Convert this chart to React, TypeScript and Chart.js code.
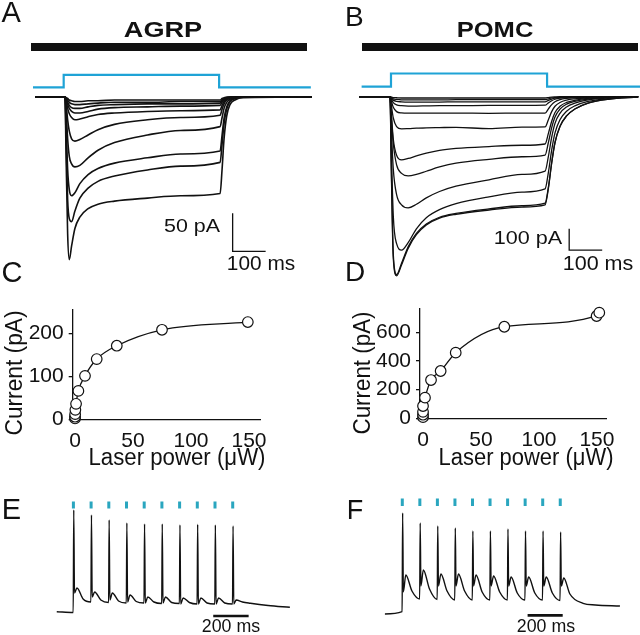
import React, { useEffect, useRef } from 'react';
import { Chart, registerables } from 'chart.js';

Chart.register(...registerables);

const FONT = '"Liberation Sans", Arial, Helvetica, sans-serif';
const INK = '#111111';
const STIM_BLUE = '#1fa3d6';
const PULSE_TEAL = '#2aa6bf';

// ---------- A: AGRP light-evoked currents (pA) ----------
const agrpTimeMs = [-91, 0, 3, 8, 13, 20, 30, 45, 70, 100, 150, 250, 350, 470, 476, 482, 490, 500, 515, 540, 748];
const agrpSweep1 = [0, 0, -70, -180, -214, -196, -173, -158, -147, -141, -137, -133, -130, -127, -95, -55, -25, -10, -4, -1, 0];
const agrpSweep2 = [0, 0, -50, -135, -160, -164, -150, -133, -120, -111, -104, -96, -91, -86, -62, -35, -16, -6, -2, 0, 0];
const agrpSweep3 = [0, 0, -30, -95, -122, -130, -126, -114, -102, -94, -87, -80, -75, -71, -50, -28, -13, -5, -2, 0, 0];
const agrpSweep4 = [0, 0, -15, -55, -78, -88, -92, -90, -80, -70, -60, -50, -44, -39, -27, -15, -7, -3, -1, 0, 0];
const agrpSweep5 = [0, 0, -8, -30, -45, -55, -58, -56, -50, -43, -36, -30, -27, -24, -16, -9, -4, -2, -1, 0, 0];
const agrpSweep6 = [0, 0, -5, -15, -22, -27, -30, -29, -26, -23, -21, -19, -18, -17, -11, -6, -3, -1, 0, 0, 0];
const agrpSweep7 = [0, 0, -3, -10, -15, -19, -21, -21, -19, -16, -14, -13, -12, -11, -7, -4, -2, -1, 0, 0, 0];
const agrpSweep8 = [0, 0, -2, -7, -11, -14, -15, -15, -13, -11, -10, -9, -9, -8, -5, -3, -1, 0, 0, 0, 0];
const agrpSweep9 = [0, 0, -1, -4, -7, -9, -10, -10, -9, -8, -7, -7, -6, -6, -4, -2, -1, 0, 0, 0, 0];
const agrpSweep10 = [0, 0, -1, -2, -4, -5, -6, -6, -5, -5, -4, -4, -4, -4, -2, -1, 0, 0, 0, 0, 0];
const agrpSweeps = [agrpSweep1, agrpSweep2, agrpSweep3, agrpSweep4, agrpSweep5, agrpSweep6, agrpSweep7, agrpSweep8, agrpSweep9, agrpSweep10];
const agrpLightTimeMs = [-97, -4, -4, 467, 467, 745];
const agrpLightLevel = [0, 0, 1, 1, 0, 0];
const agrpScaleBar = { t: 508, i: -203, dt: 100, di: 50 };

// ---------- B: POMC light-evoked currents (pA) ----------
const pomcTimeMs = [-94, 0, 4, 10, 20, 35, 55, 80, 110, 150, 200, 300, 400, 470, 480, 490, 500, 515, 535, 560, 600, 660, 752];
const pomcSweep1 = [0, 0, -350, -760, -841, -790, -712, -648, -602, -570, -552, -532, -518, -508, -430, -310, -215, -140, -90, -58, -30, -12, -2];
const pomcSweep2 = [0, 0, -330, -740, -835, -782, -705, -642, -598, -566, -548, -527, -512, -500, -425, -310, -215, -140, -90, -58, -30, -12, -2];
const pomcSweep3 = [0, 0, -250, -560, -690, -720, -685, -620, -568, -530, -502, -470, -448, -433, -355, -250, -170, -108, -68, -43, -22, -9, -1];
const pomcSweep4 = [0, 0, -150, -340, -460, -508, -522, -505, -475, -445, -420, -390, -365, -349, -280, -190, -125, -78, -48, -30, -15, -6, -1];
const pomcSweep5 = [0, 0, -90, -220, -320, -360, -372, -365, -350, -330, -312, -294, -282, -274, -215, -145, -95, -58, -35, -22, -11, -4, 0];
const pomcSweep6 = [0, 0, -80, -200, -275, -297, -290, -278, -265, -252, -243, -234, -228, -222, -172, -115, -74, -45, -27, -17, -8, -3, 0];
const pomcSweep7 = [0, 0, -40, -100, -140, -151, -150, -148, -146, -145, -144, -150, -143, -142, -108, -70, -45, -27, -16, -10, -5, -2, 0];
const pomcSweep8 = [0, 0, -20, -50, -70, -76, -77, -77, -77, -77, -77, -78, -77, -77, -57, -37, -24, -14, -8, -5, -2, -1, 0];
const pomcSweep9 = [0, 0, -10, -28, -38, -42, -44, -44, -43, -42, -42, -41, -41, -40, -29, -19, -12, -7, -4, -2, -1, 0, 0];
const pomcSweep10 = [0, 0, -6, -16, -22, -24, -25, -25, -25, -25, -24, -24, -24, -24, -17, -11, -7, -4, -2, -1, 0, 0, 0];
const pomcSweep11 = [0, 0, -4, -10, -13, -15, -15, -15, -15, -15, -14, -14, -14, -14, -10, -6, -4, -2, -1, 0, 0, 0, 0];
const pomcSweep12 = [0, 0, -2, -4, -5, -6, -6, -6, -6, -6, -6, -6, -6, -6, -4, -2, -1, 0, 0, 0, 0, 0, 0];
const pomcSweeps = [pomcSweep1, pomcSweep2, pomcSweep3, pomcSweep4, pomcSweep5, pomcSweep6, pomcSweep7, pomcSweep8, pomcSweep9, pomcSweep10, pomcSweep11, pomcSweep12];
const pomcLightTimeMs = [-86, 3, 3, 476, 476, 758];
const pomcLightLevel = [0, 0, 1, 1, 0, 0];
const pomcScaleBar = { t: 543, i: -720, dt: 100, di: 100 };

// ---------- C / D: current vs laser power ----------
const agrpPowerUw = [0, 0, 0.1, 0.3, 0.9, 2.9, 8.6, 18.7, 36, 75, 149];
const agrpCurrentPa = [2, 6, 12, 22, 36, 66, 101, 140, 171, 208, 226];
const pomcPowerUw = [0, 0, 0, 0, 1.7, 6.9, 15.2, 28.2, 70.1, 149.7, 152];
const pomcCurrentPa = [8, 25, 45, 86, 144, 267, 330, 458, 639, 714, 737];
const powerTicks = [0, 50, 100, 150];
const agrpCurrentTicks = [0, 100, 200];
const pomcCurrentTicks = [0, 200, 400, 600];

// ---------- E / F: spike trains to 10 Hz light ----------
const ePulseMs = [0, 100, 200, 300, 400, 500, 600, 700, 800, 900];
const eSpikeMs = [0, 100, 200, 300, 400, 500, 600, 700, 800, 900];
const ePreMv = [-65.5, -55, -55.5, -56, -56, -56.5, -56.5, -57, -57, -57];
const ePeakMv = [37, 32, 27, 24, 23, 23, 22, 22.7, 22, 21];
const eDipMv = [-46, -50, -53, -55, -56, -56, -57, -57, -57, -57];
const eHumpMv = [-41, -45, -46, -48, -50, -50, -51, -51, -51, -53];
const eMidMv = [-52, -53, -54, -54.5, -55, -55.5, -55.5, -56, -56, -55];
const eStartMs = -94;
const eStartMv = -64.7;
const eTailMs = [1000, 1100, 1223];
const eTailMv = [-56.3, -58.5, -60.3];
const eScaleBar = { t: 790, v: -69, dt: 200 };

const fPulseMs = [0, 100, 200, 300, 400, 500, 600, 700, 800, 900];
const fSpikeMs = [0, 100, 200, 300, 400, 500, 600, 700, 800, 900];
const fPreMv = [-62.7, -50, -50.5, -51, -51, -51, -51, -51, -51, -51.5];
const fPeakMv = [36, 26, 23, 21, 18, 18, 20, 18, 18, 17];
const fDipMv = [-43, -37, -37, -37, -37, -37, -37, -37, -37, -37];
const fHumpMv = [-26, -21, -25, -25, -26, -27, -28, -28, -28, -29];
const fMidMv = [-42, -40, -42, -42, -43, -43, -44, -44, -44, -45];
const fStartMs = -99;
const fStartMv = -65;
const fTailMs = [1030, 1100, 1240];
const fTailMv = [-54.3, -56, -57];
const fScaleBar = { t: 714, v: -66.3, dt: 200 };

// ---------- helpers ----------
const zipXY = (xs: number[], ys: number[]) => xs.map((x, i) => ({ x, y: ys[i] }));

function spikeTrain(spikes: number[], pre: number[], peak: number[], dip: number[], hump: number[], mid: number[],
  startT: number, startV: number, tailT: number[], tailV: number[]) {
  const pts: { x: number; y: number }[] = [{ x: startT, y: startV }];
  spikes.forEach((t, i) => {
    pts.push({ x: t - 1, y: pre[i] }, { x: t + 2, y: peak[i] }, { x: t + 6, y: dip[i] },
      { x: t + 20, y: hump[i] }, { x: t + 55, y: mid[i] });
  });
  tailT.forEach((t, i) => pts.push({ x: t, y: tailV[i] }));
  return pts;
}

function pulseMarks(times: number[]) {
  const pts: { x: number; y: number | null }[] = [];
  times.forEach((t) => { pts.push({ x: t, y: 0 }, { x: t, y: 1 }, { x: t, y: null }); });
  return pts;
}

const traceDs = (data: any[], width: number, axis = 'y') => ({
  data, borderColor: INK, borderWidth: width, pointRadius: 0, cubicInterpolationMode: 'monotone',
  clip: false, yAxisID: axis, fill: false,
});

const plainDs = (data: any[], color: string, width: number, axis: string) => ({
  data, borderColor: color, borderWidth: width, pointRadius: 0, tension: 0, clip: false,
  yAxisID: axis, fill: false, spanGaps: false, borderCapStyle: 'butt',
});

const hidden = (min: number, max: number, type = 'linear') => ({ type, display: false, min, max });

const baseOptions = (scales: any) => ({
  animation: false, responsive: false, maintainAspectRatio: false, devicePixelRatio: 1, events: [],
  layout: { padding: 0 },
  plugins: { legend: { display: false }, tooltip: { enabled: false }, title: { display: false } },
  scales,
});

// ---------- chart configs ----------
function configA() {
  const sb = agrpScaleBar;
  return {
    type: 'line',
    data: {
      datasets: [
        ...agrpSweeps.map((s) => traceDs(zipXY(agrpTimeMs, s), 1.6)),
        plainDs(zipXY(agrpLightTimeMs, agrpLightLevel), STIM_BLUE, 2.2, 's'),
        plainDs([{ x: sb.t, y: sb.i + sb.di }, { x: sb.t, y: sb.i }, { x: sb.t + sb.dt, y: sb.i }], INK, 1.3, 'y'),
      ],
    },
    options: baseOptions({ x: hidden(-196.97, 772.73), y: hidden(-240.79, 127.63), s: hidden(-15.416, 6.984) }),
  };
}

function configB() {
  const sb = pomcScaleBar;
  return {
    type: 'line',
    data: {
      datasets: [
        ...pomcSweeps.map((s) => traceDs(zipXY(pomcTimeMs, s), 1.3)),
        plainDs(zipXY(pomcLightTimeMs, pomcLightLevel), STIM_BLUE, 2.2, 's'),
        plainDs([{ x: sb.t, y: sb.i + sb.di }, { x: sb.t, y: sb.i }, { x: sb.t + sb.dt, y: sb.i }], INK, 1.3, 'y'),
      ],
    },
    options: baseOptions({ x: hidden(-212.12, 757.58), y: hidden(-860.56, 453.99), s: hidden(-14.644, 6.568) }),
  };
}

function curveConfig(xs: number[], ys: number[], xr: number[], yr: number[], xTicks: number[], yTicks: number[],
  yAxisW: number, xAxisH: number, padTop: number, padRight: number) {
  const tickFont = { family: FONT, size: 21 };
  return {
    type: 'line',
    data: {
      datasets: [{
        data: zipXY(xs, ys), borderColor: INK, borderWidth: 1.3, cubicInterpolationMode: 'monotone',
        pointRadius: 5.3, pointBackgroundColor: '#ffffff', pointBorderColor: INK, pointBorderWidth: 1.2,
        clip: false, fill: false,
      }],
    },
    options: {
      ...baseOptions({
        x: {
          type: 'linear', min: xr[0], max: xr[1],
          border: { display: true, color: INK, width: 1.3 },
          grid: { display: false },
          ticks: { color: INK, font: tickFont, padding: 1, maxRotation: 0, autoSkip: false, includeBounds: false },
          afterBuildTicks: (s: any) => { s.ticks = xTicks.map((v) => ({ value: v })); },
          afterFit: (s: any) => { s.height = xAxisH; },
        },
        y: {
          type: 'linear', min: yr[0], max: yr[1],
          border: { display: true, color: INK, width: 1.3 },
          grid: { display: true, drawOnChartArea: false, drawTicks: true, tickLength: 4, color: INK, lineWidth: 1.3 },
          ticks: { color: INK, font: tickFont, padding: 5, autoSkip: false, includeBounds: false },
          afterBuildTicks: (s: any) => { s.ticks = yTicks.map((v) => ({ value: v })); },
          afterFit: (s: any) => { s.width = yAxisW; },
        },
      }),
      layout: { padding: { top: padTop, right: padRight, left: 0, bottom: 0 } },
    },
  };
}

function configC() {
  return curveConfig(agrpPowerUw, agrpCurrentPa, [-2, 159.5], [0, 254], powerTicks, agrpCurrentTicks, 72.7, 30.7, 20, 40);
}
function configD() {
  return curveConfig(pomcPowerUw, pomcCurrentPa, [-2.6, 158.4], [0, 767.6], powerTicks, pomcCurrentTicks, 100, 31.7, 18.3, 13.3);
}

function configE() {
  const sb = eScaleBar;
  return {
    type: 'line',
    data: {
      datasets: [
        traceDs(spikeTrain(eSpikeMs, ePreMv, ePeakMv, eDipMv, eHumpMv, eMidMv, eStartMs, eStartMv, eTailMs, eTailMv), 1.4),
        plainDs(pulseMarks(ePulseMs), PULSE_TEAL, 3, 'L'),
        plainDs([{ x: sb.t, y: sb.v }, { x: sb.t + sb.dt, y: sb.v }], INK, 2.7, 'y'),
      ],
    },
    options: baseOptions({ x: hidden(-414.7, 1393.2), y: hidden(-88, 67), L: hidden(-18.07, 4.07) }),
  };
}

function configF() {
  const sb = fScaleBar;
  return {
    type: 'line',
    data: {
      datasets: [
        traceDs(spikeTrain(fSpikeMs, fPreMv, fPeakMv, fDipMv, fHumpMv, fMidMv, fStartMs, fStartMv, fTailMs, fTailMv), 1.4),
        plainDs(pulseMarks(fPulseMs), PULSE_TEAL, 3, 'L'),
        plainDs([{ x: sb.t, y: sb.v }, { x: sb.t + sb.dt, y: sb.v }], INK, 2.7, 'y'),
      ],
    },
    options: baseOptions({ x: hidden(-468.9, 1354.4), y: hidden(-86, 69), L: hidden(-17.2, 3.467) }),
  };
}

// ---------- components ----------
function ChartBox({ left, top, width, height, make }: { left: number; top: number; width: number; height: number; make: () => any }) {
  const ref = useRef<HTMLCanvasElement | null>(null);
  useEffect(() => {
    if (!ref.current) return;
    const chart = new Chart(ref.current, make());
    return () => chart.destroy();
  }, []);
  return (
    <canvas ref={ref} width={width} height={height}
      style={{ position: 'absolute', left, top, width, height }} />
  );
}

let measureCtx: CanvasRenderingContext2D | null = null;
function measure(text: string, font: string) {
  if (!measureCtx) measureCtx = document.createElement('canvas').getContext('2d');
  if (!measureCtx) return 0;
  measureCtx.font = font;
  return measureCtx.measureText(text).width;
}

function Label({ text, x, y, size, weight = 'normal', width, align = 'center', rotate = false }:
  { text: string; x: number; y: number; size: number; weight?: string; width?: number; align?: string; rotate?: boolean }) {
  let sx = 1;
  if (width) {
    const w = measure(text, `${weight} ${size}px ${FONT}`);
    if (w > 0) sx = width / w;
  }
  const tx = align === 'center' ? '-50%' : align === 'left' ? '0px' : '-100%';
  const transform = `${rotate ? 'rotate(-90deg) ' : ''}scaleX(${sx}) translate(${tx}, -${0.8465 * size}px)`;
  return (
    <div style={{
      position: 'absolute', left: x, top: y, fontFamily: FONT, fontSize: size, fontWeight: weight as any,
      lineHeight: 1, whiteSpace: 'nowrap', transformOrigin: '0 0', transform, color: INK,
    }}>{text}</div>
  );
}

export default function App() {
  return (
    <div style={{ position: 'absolute', left: 0, top: 0, width: 640, height: 635, background: '#ffffff', overflow: 'hidden' }}>
      {/* black bars */}
      <div style={{ position: 'absolute', left: 30.7, top: 43.3, width: 276, height: 7.7, background: INK }} />
      <div style={{ position: 'absolute', left: 361.7, top: 43.3, width: 276.6, height: 7.7, background: INK }} />

      <ChartBox left={0} top={0} width={320} height={280} make={configA} />
      <ChartBox left={320} top={0} width={320} height={280} make={configB} />
      <ChartBox left={0} top={290} width={300} height={160} make={configC} />
      <ChartBox left={320} top={290} width={300} height={160} make={configD} />
      <ChartBox left={0} top={480} width={320} height={155} make={configE} />
      <ChartBox left={320} top={480} width={320} height={155} make={configF} />

      <Label text="A" x={1.5} y={23} size={29} align="left" />
      <Label text="B" x={345} y={26.7} size={28} align="left" />
      <Label text="C" x={1.5} y={282.5} size={29} align="left" />
      <Label text="D" x={345} y={281.5} size={28} align="left" />
      <Label text="E" x={1.7} y={520} size={29} align="left" />
      <Label text="F" x={346.7} y={520} size={27} align="left" />

      <Label text="AGRP" x={162.5} y={38} size={22} weight="bold" width={78.3} />
      <Label text="POMC" x={495} y={38} size={22} weight="bold" width={76.7} />

      <Label text="50 pA" x={192} y={233.3} size={18.5} width={56} />
      <Label text="100 ms" x={260.8} y={270.7} size={19.5} width={68.3} />
      <Label text="100 pA" x={527.5} y={245} size={18.5} width={68.4} />
      <Label text="100 ms" x={598} y={270.7} size={19.5} width={70.6} />

      <Label text="Current (pA)" x={22} y={372.5} size={23} width={125} rotate />
      <Label text="Current (pA)" x={369.5} y={373} size={23} width={123} rotate />
      <Label text="Laser power (μW)" x={176.5} y={465} size={23} width={177} />
      <Label text="Laser power (μW)" x={525.5} y={465} size={23} width={175} />

      <Label text="200 ms" x={231} y={633} size={18.5} width={58.3} />
      <Label text="200 ms" x={545.8} y={633} size={18.5} width={58.3} />
    </div>
  );
}
